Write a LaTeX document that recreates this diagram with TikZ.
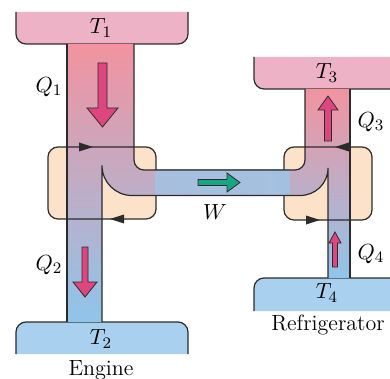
\documentclass[tikz,border=0pt]{standalone}
\usepackage{tikz}
\definecolor{respink}{HTML}{EDB2C5}
\definecolor{resblue}{HTML}{A9D0EE}
\definecolor{boxor}{HTML}{FDE2CA}
\definecolor{colpink}{HTML}{F2939F}
\definecolor{collav}{HTML}{C0B3CE}
\definecolor{colblue}{HTML}{8FC5EA}
\definecolor{bandblue}{HTML}{A4C0E0}
\definecolor{arrpink}{HTML}{DE4680}
\definecolor{arrgreen}{HTML}{17A684}
\definecolor{edge}{HTML}{2B2B2B}
\tikzset{
  outl/.style={draw=edge, line width=0.6pt},
  flowline/.style={draw=edge, line width=0.6pt},
  heatarrow/.style={fill=arrpink, draw=edge, line width=0.4pt, line join=miter},
  workarrow/.style={fill=arrgreen, draw=edge, line width=0.4pt},
  cyctip/.style={fill=edge, draw=none},
  lbl/.style={font=\fontsize{11}{13}\selectfont, inner sep=0pt},
}
\begin{document}
\begin{tikzpicture}[x=0.5pt,y=-0.5pt]
\useasboundingbox (0,0) rectangle (390,379);
\clip (0,0) rectangle (390,379);
% reservoirs
\fill[respink] (16,12) -- (16,34) .. controls (16,39.5) and (20.5,44) .. (26,44) -- (178,44) .. controls (183.5,44) and (188,39.5) .. (188,34) -- (188,12) -- cycle;
\draw[outl] (16,12) -- (16,34) .. controls (16,39.5) and (20.5,44) .. (26,44) -- (178,44) .. controls (183.5,44) and (188,39.5) .. (188,34) -- (188,12);
\fill[resblue] (16,354) -- (16,332) .. controls (16,326.5) and (20.5,322) .. (26,322) -- (178,322) .. controls (183.5,322) and (188,326.5) .. (188,332) -- (188,354) -- cycle;
\draw[outl] (16,354) -- (16,332) .. controls (16,326.5) and (20.5,322) .. (26,322) -- (178,322) .. controls (183.5,322) and (188,326.5) .. (188,332) -- (188,354);
\fill[respink] (254,57) -- (254,79) .. controls (254,84.5) and (258.5,89) .. (264,89) -- (400,89) -- (400,57) -- cycle;
\draw[outl] (254,57) -- (254,79) .. controls (254,84.5) and (258.5,89) .. (264,89) -- (400,89);
\fill[resblue] (254,311) -- (254,288) .. controls (254,282.5) and (258.5,278) .. (264,278) -- (400,278) -- (400,311) -- cycle;
\draw[outl] (254,311) -- (254,288) .. controls (254,282.5) and (258.5,278) .. (264,278) -- (400,278);
% boxes
\fill[boxor, rounded corners=10pt*0.5] (48,147) rectangle (156,219);
\fill[boxor, rounded corners=10pt*0.5] (284,147) rectangle (372,220);
% engine column fill
\shade[top color=colpink, middle color=collav, bottom color=colblue]
  (67,44) -- (134,44) -- (134,160) .. controls (134,165.5) and (138.5,170) .. (144,170) -- (160,170) -- (160,195.5) -- (132,195.5) .. controls (115.4,195.5) and (102,182.1) .. (102,165.5) -- (102,322) -- (67,322) -- cycle;
% refrigerator column fill
\shade[top color=colpink, middle color=collav, bottom color=colblue]
  (305,89) -- (350,89) -- (350,278) -- (328,278) -- (328,168) .. controls (328,183.5) and (315.5,195.5) .. (300,195.5) -- (280,195.5) -- (280,170) -- (295,170) .. controls (300.5,170) and (305,165.5) .. (305,160) -- cycle;
% band
\shade[left color=bandblue!85!collav, right color=bandblue] (155,170) rectangle (290,195.5);
% box outlines (broken where the band passes)
\draw[outl] (156,195.5) -- (156,209) .. controls (156,214.5) and (151.5,219) .. (146,219) -- (58,219) .. controls (52.5,219) and (48,214.5) .. (48,209) -- (48,157) .. controls (48,151.5) and (52.5,147) .. (58,147) -- (146,147) .. controls (151.5,147) and (156,151.5) .. (156,157) -- (156,170);
\draw[outl] (284,170) -- (284,157) .. controls (284,151.5) and (288.5,147) .. (294,147) -- (362,147) .. controls (367.5,147) and (372,151.5) .. (372,157) -- (372,210) .. controls (372,215.5) and (367.5,220) .. (362,220) -- (294,220) .. controls (288.5,220) and (284,215.5) .. (284,210) -- (284,195.5);
% flow lines
\draw[flowline] (67,44) -- (67,322);
\draw[flowline] (134,44) -- (134,160) .. controls (134,165.5) and (138.5,170) .. (144,170) -- (295,170) .. controls (300.5,170) and (305,165.5) .. (305,160) -- (305,89);
\draw[flowline] (102,322) -- (102,165.5) .. controls (102,182.1) and (115.4,195.5) .. (132,195.5) -- (300,195.5) .. controls (315.5,195.5) and (328,183.5) .. (328,168) -- (328,278);
\draw[flowline] (350,89) -- (350,278);
% cycle direction tips
\fill[cyctip] (93,147) -- (79,142.5) -- (79,151.5) -- cycle;
\fill[cyctip] (110,219) -- (124,214.5) -- (124,223.5) -- cycle;
\fill[cyctip] (335,147) -- (349,142.5) -- (349,151.5) -- cycle;
\fill[cyctip] (320,220) -- (306,215.5) -- (306,224.5) -- cycle;
% heat arrows
\draw[heatarrow] (98,63) -- (107,63) -- (107,108) -- (118,108) -- (102.5,127) -- (87,108) -- (98,108) -- cycle;
\draw[heatarrow] (82,247) -- (88,247) -- (88,282) -- (97,282) -- (85,297) -- (73,282) -- (82,282) -- cycle;
\draw[heatarrow] (324.5,141) -- (331.5,141) -- (331.5,110) -- (338,110) -- (328,96) -- (318,110) -- (324.5,110) -- cycle;
\draw[heatarrow] (332.5,267) -- (337.5,267) -- (337.5,243) -- (341,243) -- (335,232) -- (329,243) -- (332.5,243) -- cycle;
% work arrow
\draw[workarrow] (198,179.5) -- (227,179.5) -- (227,173) -- (240,182.5) -- (227,192) -- (227,185.5) -- (198,185.5) -- cycle;
% labels
\node[lbl] (t1) at (101,28) {$T_1$};
\node[lbl] (t2) at (101,339) {$T_2$};
\node[lbl] (q1) at (49,87) {$Q_1$};
\node[lbl] (q2) at (49,265) {$Q_2$};
\node[lbl] (w) at (215,212) {$W$};
\node[lbl] (t3) at (327,73) {$T_3$};
\node[lbl] (q3) at (371,122) {$Q_3$};
\node[lbl] (q4) at (371,254) {$Q_4$};
\node[lbl] (t4) at (327,293) {$T_4$};
\node[lbl] (eng) at (101,370) {Engine};
\node[lbl] (ref) at (328,325) {Refrigerator};
\end{tikzpicture}
\end{document}
